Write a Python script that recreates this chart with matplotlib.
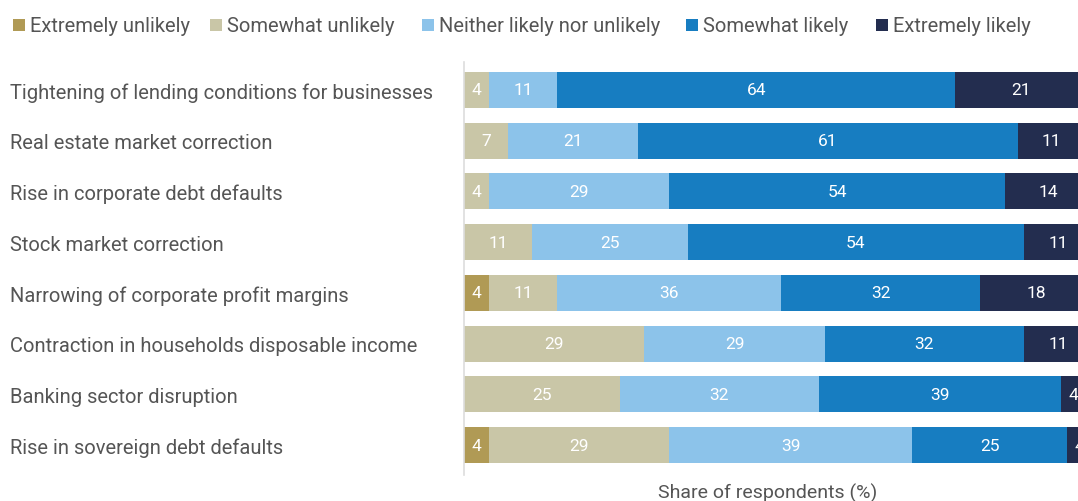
import matplotlib
matplotlib.use("Agg")
import matplotlib.pyplot as plt
from matplotlib.patches import Rectangle
import numpy as np

categories = [
    "Tightening of lending conditions for businesses",
    "Real estate market correction",
    "Rise in corporate debt defaults",
    "Stock market correction",
    "Narrowing of corporate profit margins",
    "Contraction in households disposable income",
    "Banking sector disruption",
    "Rise in sovereign debt defaults",
]
series_names = ["Extremely unlikely", "Somewhat unlikely", "Neither likely nor unlikely",
                "Somewhat likely", "Extremely likely"]
extremely_unlikely = [0, 0, 0, 0, 4, 0, 0, 4]
somewhat_unlikely = [4, 7, 4, 11, 11, 29, 25, 29]
neither = [11, 21, 29, 25, 36, 29, 32, 39]
somewhat_likely = [64, 61, 54, 54, 32, 32, 39, 25]
extremely_likely = [21, 11, 14, 11, 18, 11, 4, 4]

series = [extremely_unlikely, somewhat_unlikely, neither, somewhat_likely, extremely_likely]
colors = ["#B09A55", "#C9C6A7", "#8CC3EA", "#177DC1", "#232D4F"]

plt.rcParams["font.family"] = ["Roboto", "DejaVu Sans"]
text_color = "#555555"
W, H = 1078, 502

fig = plt.figure(figsize=(W / 100, H / 100), dpi=100)
ax = fig.add_axes([464 / W, 1 - 476 / H, 622 / W, (476 - 63) / H])

y = np.arange(len(categories))
left = np.zeros(len(categories))
for vals, col in zip(series, colors):
    vals = np.array(vals, dtype=float)
    ax.barh(y, vals, left=left, height=0.71, color=col, edgecolor="none")
    for yi, (l, v) in enumerate(zip(left, vals)):
        if v > 0:
            ax.text(l + v / 2, yi, f"{int(v)}", ha="center", va="center",
                    color="white", fontsize=12.5)
    left += vals

ax.set_xlim(0, 100)
ax.set_ylim(7.59, -0.552)
ax.set_yticks(y)
ax.set_yticklabels(categories, fontsize=14.5, color=text_color)
for lbl in ax.get_yticklabels():
    lbl.set_horizontalalignment("left")
ax.tick_params(axis="y", length=0, pad=454 * 0.72)
ax.set_xticks([])
for s in ["top", "right", "bottom"]:
    ax.spines[s].set_visible(False)
ax.spines["left"].set_color("#dddddd")
ax.spines["left"].set_linewidth(1.2)

fig.text(768 / W, 1 - 493 / H, "Share of respondents (%)", ha="center", va="center",
         fontsize=14, color=text_color)

# Legend drawn as a row of swatches with labels
legend_x = [13, 210, 422, 686, 876]
sq = 12
for x0, name, col in zip(legend_x, series_names, colors):
    fig.patches.append(Rectangle((x0 / W, 1 - (26 + sq / 2) / H), sq / W, sq / H,
                                 transform=fig.transFigure, facecolor=col, edgecolor="none"))
    fig.text((x0 + sq + 5) / W, 1 - 26 / H, name, ha="left", va="center",
             fontsize=14.5, color=text_color)

fig.savefig("out.png", dpi=100)
